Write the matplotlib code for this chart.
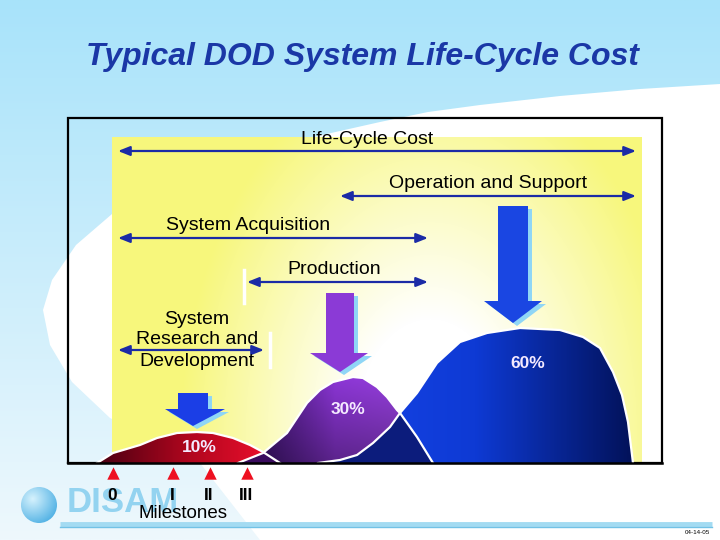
import numpy as np
import matplotlib
matplotlib.use("Agg")
import matplotlib.pyplot as plt
from matplotlib.patches import Polygon, Circle
from matplotlib.colors import LinearSegmentedColormap, to_rgb

plt.rcParams["font.family"] = ["Liberation Sans", "DejaVu Sans"]

title = "Typical DOD System Life-Cycle Cost"

# phase spans (pixel positions on the slide)
span_labels = ["Life-Cycle Cost", "Operation and Support", "System Acquisition",
               "Production", "System\nResearch and\nDevelopment"]
span_start = [118, 340, 118, 247, 118]
span_end = [636, 636, 428, 428, 264]
span_y = [151, 196, 238, 282, 350]
label_x = [367, 488, 248, 334, 197]
label_y = [139, 184, 225, 270, 319]
line_gap = 21

# cost share humps
share_labels = ["10%", "30%", "60%"]
share_x = [199, 348, 528]
share_y = [448, 410, 363]

red_x = [97, 113, 140, 157, 177, 197, 213, 233, 250, 263, 280]
red_y = [463, 453, 445, 438, 433, 432, 433, 438, 445, 452, 463]
purple_x = [238, 263, 287, 307, 320, 333, 353, 363, 377, 387, 397, 400, 417, 433]
purple_y = [463, 453, 433, 403, 390, 382, 377, 378, 387, 397, 410, 413, 437, 463]
blue_x = [318, 340, 357, 373, 390, 400, 417, 437, 460, 487, 520, 560, 583, 600, 613, 622, 628, 633]
blue_y = [463, 460, 455, 443, 427, 413, 393, 363, 342, 333, 328, 330, 337, 348, 372, 395, 422, 463]

# block arrows: shaft left/right, shaft top, head y, head left/right, tip y
blk_shaft = [(178, 208), (326, 354), (498, 528)]
blk_top = [393, 293, 206]
blk_head_y = [409, 353, 301]
blk_head = [(165, 225), (310, 368), (484, 542)]
blk_tip = [426, 372, 323]
blk_color = ["#1b3ee6", "#8b3ad6", "#1a46e2"]

milestones = ["0", "I", "II", "III"]
milestone_x = [113, 173, 210, 247]


def rgb_grad(stops, w, h, vdark=0.0):
    cmap = LinearSegmentedColormap.from_list("g", stops)
    row = cmap(np.linspace(0, 1, w))[:, :3]
    v = np.linspace(0, 1, h)[:, None, None]
    return row[None, :, :] * (1 - vdark * v)


def grad_patch(ax, xs, ys, stops, z, vdark=0.0):
    poly = Polygon(np.column_stack([xs, ys]), closed=True, fc="none", ec="none")
    ax.add_patch(poly)
    img = rgb_grad(stops, 200, 100, vdark)
    im = ax.imshow(img, extent=(min(xs), max(xs), max(ys), min(ys)),
                   aspect="auto", zorder=z, interpolation="bilinear")
    im.set_clip_path(poly)
    return poly


fig = plt.figure(figsize=(7.2, 5.4), dpi=100)
ax = fig.add_axes([0, 0, 1, 1])

# slide background
v = np.linspace(0, 1, 200)[:, None]
top, bot = np.array(to_rgb("#a8e3fa")), np.array(to_rgb("#eef8fd"))
bg = (top * (1 - v) + bot * v)[:, None, :] * np.ones((1, 2, 1))
ax.imshow(bg, extent=(0, 720, 540, 0), aspect="auto", zorder=0)
swoosh = [(720, 84), (640, 89), (560, 96), (480, 105), (428, 112), (380, 122),
          (300, 140), (220, 165), (160, 190), (112, 214), (76, 245), (52, 280),
          (43, 310), (50, 345), (72, 382), (110, 418), (200, 463), (260, 540),
          (720, 540)]
ax.add_patch(Polygon(swoosh, closed=True, fc="white", ec="none", zorder=1))

# yellow panel with radial fade
yy, xx = np.mgrid[137:463, 112:642].astype(float)
t = np.sqrt(((xx - 430) / 250) ** 2 + ((yy - 430) / 370) ** 2)
w = np.clip((t - 0.3) / 0.7, 0, 1)[:, :, None]
yel = np.array(to_rgb("#f7f77c"))
ax.imshow(np.ones(3) * (1 - w) + yel * w, extent=(112, 642, 463, 137),
          aspect="auto", zorder=2)

# frame
ax.plot([68, 68, 662, 662, 68], [463, 118, 118, 463, 463], color="black",
        lw=1.6, zorder=3, solid_joinstyle="miter")

# humps
pb = grad_patch(ax, blue_x, blue_y, ["#1845ea", "#0e3ad4", "#02125a"], 4)
pp = grad_patch(ax, purple_x, purple_y, ["#2c0c58", "#8c36d6", "#9a44de"], 5, vdark=0.35)
ov = Polygon(np.column_stack([blue_x, blue_y]), closed=True, fc="#0c1c7c", ec="none", zorder=6)
ax.add_patch(ov)
ov.set_clip_path(pp)
pr = grad_patch(ax, red_x, red_y, ["#4a0012", "#b0061e", "#f2112e"], 7)
ov2 = Polygon(np.column_stack([red_x, red_y]), closed=True, fc="#3a0c5e", ec="none", zorder=8)
ax.add_patch(ov2)
ov2.set_clip_path(pp)
for xs, ys in [(blue_x, blue_y), (purple_x, purple_y), (red_x, red_y)]:
    ax.plot(xs, ys, color="white", lw=1.6, zorder=9, solid_joinstyle="round")
ax.plot([68, 662], [463, 463], color="black", lw=1.8, zorder=10)

for lab, x, y in zip(share_labels, share_x, share_y):
    ax.text(x, y, lab, ha="center", va="center", fontsize=12.5, fontweight="bold",
            color="#f4eaff", zorder=11)

# block arrows with light shadow
for (sl, sr), ty, hy, (hl, hr), tip, c in zip(blk_shaft, blk_top, blk_head_y,
                                                blk_head, blk_tip, blk_color):
    tx = (sl + sr) / 2
    pts = np.array([(sl, ty), (sr, ty), (sr, hy), (hr, hy), (tx, tip), (hl, hy), (sl, hy)])
    ax.add_patch(Polygon(pts + [4, 3], closed=True, fc="#8fd6f6", ec="none", zorder=11))
    ax.add_patch(Polygon(pts, closed=True, fc=c, ec="none", zorder=12))

# span arrows and labels
for lab, x0, x1, y, lx, ly in zip(span_labels, span_start, span_end, span_y, label_x, label_y):
    ax.annotate("", xy=(x1, y), xytext=(x0, y),
                arrowprops=dict(arrowstyle="<|-|>,head_length=0.7,head_width=0.28",
                                color="#1b2ba6", lw=1.6, mutation_scale=10,
                                shrinkA=0, shrinkB=0), zorder=12)
    for i, part in enumerate(lab.split("\n")):
        ax.text(lx, ly + i * line_gap, part, ha="center", va="center", fontsize=14,
                color="black", zorder=12)
ax.plot([244, 244], [270, 303], color="white", lw=2.5, zorder=11)
ax.plot([270, 270], [333, 367], color="white", lw=2.5, zorder=11)

# milestones
ax.scatter(milestone_x, [473] * len(milestone_x), marker="^", s=80, color="#ee1020",
           linewidths=0, zorder=12)

# DISAM logo
ax.plot([60, 712], [524, 524], color="#a3dbf2", lw=3.5, zorder=3, solid_capstyle="butt")
ax.plot([60, 712], [526.5, 526.5], color="#72c2e6", lw=1, zorder=3)
globe = Circle((39, 505), 18, fc="none", ec="none")
ax.add_patch(globe)
gy, gx = np.mgrid[-1:1:60j, -1:1:60j]
r = np.clip(np.sqrt((gx + 0.35) ** 2 + (gy + 0.35) ** 2) / 1.6, 0, 1)[:, :, None]
gim = ax.imshow(np.array(to_rgb("#d6f2fd")) * (1 - r) + np.array(to_rgb("#4aaee3")) * r,
                extent=(21, 57, 523, 487), aspect="auto", zorder=4)
gim.set_clip_path(globe)
ax.text(123, 503, "DISAM", ha="center", va="center", fontsize=25, fontweight="bold",
        color="#93d3f0", zorder=4)

for lab, x in zip(milestones, milestone_x):
    ax.text(x - 1, 496, lab, ha="center", va="center", fontsize=12.5,
            fontweight="bold", color="black", zorder=12)
ax.text(183, 513, "Milestones", ha="center", va="center", fontsize=13.5,
        color="black", zorder=12)

ax.text(362, 57, title, ha="center", va="center", fontsize=23, fontweight="bold",
        fontstyle="italic", color="#1a37a6", zorder=12)
ax.text(697, 532, "04-14-05", ha="center", va="center", fontsize=4.5, color="black")

ax.set_xlim(0, 720)
ax.set_ylim(540, 0)
ax.axis("off")
fig.savefig("out.png", dpi=100)
